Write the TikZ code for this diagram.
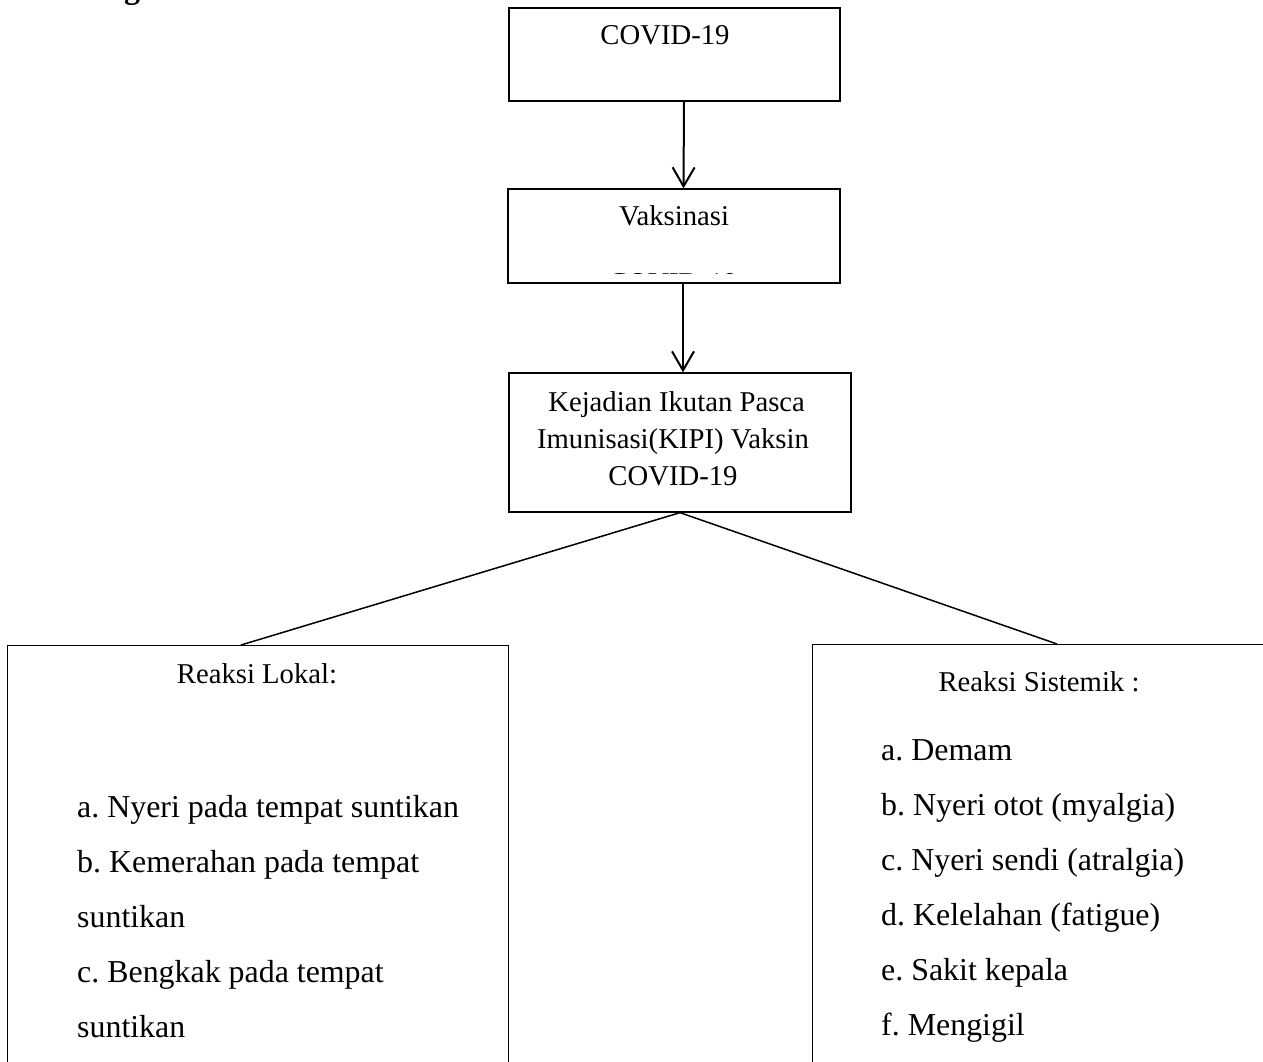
\documentclass[tikz,border=0pt]{standalone}
\usepackage{fontspec}
\setmainfont{Liberation Serif}
\usetikzlibrary{arrows.meta}
\frenchspacing

\tikzset{
        box/.style={draw, line width=1.3pt, inner sep=0pt},
        boxtext/.style={font=\fontsize{28.7}{37}\selectfont, inner sep=0pt},
        itemtext/.style={font=\fontsize{31.9}{55}\selectfont, inner sep=0pt, anchor=base west},
        arr/.style={line width=2pt, -{Straight Barb[length=19pt, width=22pt, line width=2pt]}},
        link/.style={line width=1.5pt},
}

\NewDocumentCommand{\listline}{mmmm}{%
\node[itemtext] (#1) at (#2,#3) {#4};%
}

\begin{document}
\begin{tikzpicture}[x=1pt, y=-1pt]
        \useasboundingbox (0,0) rectangle (1263,1062);
        \node[anchor=base west, inner sep=0pt, font=\fontsize{31.9}{38}\selectfont\bfseries] (heading) at (124,-1) {g};

        % Boxes down the middle.
        \node[box, minimum width=331, minimum height=93] (covid) at (674.5,54.5) {};
        \node[boxtext, anchor=base] (covidtxt) at (665,45) {COVID-19};
        \node[box, minimum width=332, minimum height=94] (vaks) at (674,236) {};
        \node[boxtext, anchor=base] (vakstxt) at (674,225) {Vaksinasi};
        \begin{scope}
                \clip (510,190) rectangle (839,273);
                \node[boxtext, anchor=base] (vakscut) at (673,292) {COVID-19};
        \end{scope}
        \node[box, minimum width=342, minimum height=139] (kipi) at (680,442.5) {};
        \node[boxtext, align=center, anchor=base] (kipitxt) at (673,485)
                {\ Kejadian Ikutan Pasca\\Imunisasi(KIPI) Vaksin\ \\COVID-19};

        \draw[arr] ([xshift=9.5]covid.south) -- ([xshift=9.5]vaks.north);
        \draw[arr] ([xshift=9]vaks.south) -- ([xshift=3]kipi.north);

        % Two reaction boxes, cut by the page.
        \node[box, minimum width=501, minimum height=500, anchor=north west] (lokal) at (7,645) {};
        \node[box, minimum width=500, minimum height=500, anchor=north west] (sistem) at (812,644) {};
        \coordinate (lokaltop) at (241,645);
        \coordinate (sistemtop) at (1057,644);
        \draw[link] (kipi.south) -- (lokaltop);
        \draw[link] (kipi.south) -- (sistemtop);

        \node[boxtext, anchor=base] (lokaltxt) at (257,683) {Reaksi Lokal:};
        \node[boxtext, anchor=base] (sistemtxt) at (1039,691) {Reaksi Sistemik :};

        \listline{loka}{77}{817}{a. Nyeri pada tempat suntikan}
        \listline{lokb}{77}{872}{b. Kemerahan pada tempat}
        \listline{lokbb}{77}{927}{suntikan}
        \listline{lokc}{77}{982}{c. Bengkak pada tempat}
        \listline{lokcc}{77}{1037}{suntikan}

        \listline{sisa}{881}{760}{a. Demam}
        \listline{sisb}{881}{815}{b. Nyeri otot (myalgia)}
        \listline{sisc}{881}{870}{c. Nyeri sendi (atralgia)}
        \listline{sisd}{881}{925}{d. Kelelahan (fatigue)}
        \listline{sise}{881}{980}{e. Sakit kepala}
        \listline{sisf}{881}{1035}{f. Mengigil}
\end{tikzpicture}
\end{document}
